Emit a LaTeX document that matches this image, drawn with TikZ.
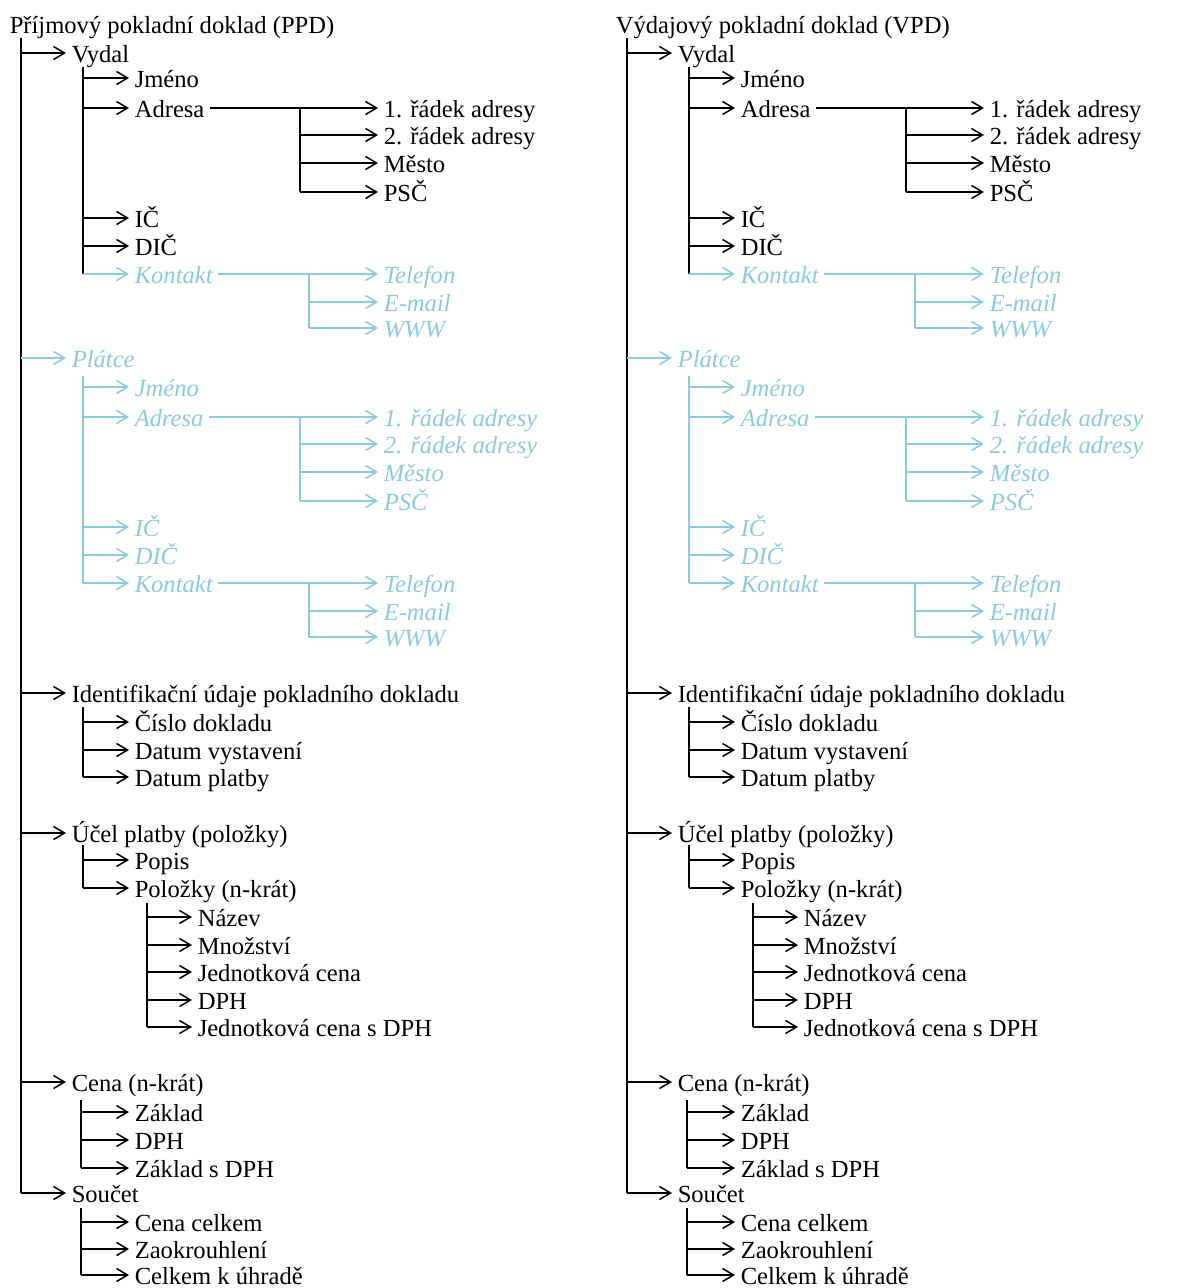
\documentclass[tikz,border=0pt]{standalone}
\usepackage{fontspec}
\setmainfont{Liberation Serif}
\usetikzlibrary{arrows.meta}
\definecolor{optblue}{RGB}{140,202,222}

\begin{document}
\begin{tikzpicture}[x=1pt, y=-1pt, line width=1.5pt]
\tikzset{ >={Straight Barb[length=11pt, width=13pt]},
  item/.style={anchor=west, inner xsep=5pt, inner ysep=0pt, text height=18pt, text depth=0pt,
    font=\fontsize{24.6}{28}\selectfont},
  req/.style={},
  opt/.style={optblue, font=\fontsize{24.6}{28}\selectfont\itshape},
}

\useasboundingbox (0,0) rectangle (1197,1288);

\foreach \dx/\pre/\doc in {0/ppd/{Příjmový pokladní doklad (PPD)}, 606/vpd/{Výdajový pokladní doklad (VPD)}} {
\begin{scope}[xshift=\dx pt, name prefix=\pre-]

% document and its first level
\node [item] (doc) at (4,24) {\doc};
\coordinate (top) at (21,38);

\node [item] (vydal)  at (66,53)   {Vydal};
\node [item, opt] (platce) at (66,358) {Plátce};
\node [item] (ident)  at (66,693)  {Identifikační údaje pokladního dokladu};
\node [item] (ucel)   at (66,833)  {Účel platby (položky)};
\node [item] (cena)   at (66,1082) {Cena (n-krát)};
\node [item] (soucet) at (66,1193) {Součet};

\draw (top) -- (top |- soucet.west);
\foreach \n in {vydal, ident, ucel, cena, soucet}
  \draw [->] (top |- \n.west) -- (\n.west);
\draw [->, opt] (top |- platce.west) -- (platce.west);

% Vydal (v) and Platce (p): same fields, Platce shifted down
\foreach \sub/\dy/\kind in {v/0/req, p/309/opt} {
\begin{scope}[yshift=-\dy pt]
\coordinate (\sub t) at (83,67);
\node [item, \kind] (\sub jmeno)   at (129,78)  {Jméno};
\node [item, \kind] (\sub adresa)  at (129,108) {Adresa};
\node [item, \kind] (\sub ic)      at (129,218) {IČ};
\node [item, \kind] (\sub dic)     at (129,246) {DIČ};
\node [item, opt]   (\sub kontakt) at (129,274) {Kontakt};

\draw [\kind] (\sub t) -- (\sub t |- \sub kontakt.west);
\foreach \n in {jmeno, adresa, ic, dic}
  \draw [->, \kind] (\sub t |- \sub\n.west) -- (\sub\n.west);
\draw [->, opt] (\sub t |- \sub kontakt.west) -- (\sub kontakt.west);

% address lines
\coordinate (\sub at) at (300,108);
\node [item, \kind] (\sub a1)    at (378,108) {1. řádek adresy};
\node [item, \kind] (\sub a2)    at (378,135) {2. řádek adresy};
\node [item, \kind] (\sub mesto) at (378,163) {Město};
\node [item, \kind] (\sub psc)   at (378,192) {PSČ};
\draw [->, \kind] (\sub adresa.east) -- (\sub a1.west);
\draw [\kind] (\sub at) -- (\sub at |- \sub psc.west);
\foreach \n in {a2, mesto, psc}
  \draw [->, \kind] (\sub at |- \sub\n.west) -- (\sub\n.west);

% contact
\coordinate (\sub kt) at (309,274);
\node [item, opt] (\sub tel)   at (378,274) {Telefon};
\node [item, opt] (\sub email) at (378,302) {E-mail};
\node [item, opt] (\sub www)   at (378,328) {WWW};
\draw [->, opt] (\sub kontakt.east) -- (\sub tel.west);
\draw [opt] (\sub kt) -- (\sub kt |- \sub www.west);
\foreach \n in {email, www}
  \draw [->, opt] (\sub kt |- \sub\n.west) -- (\sub\n.west);
\end{scope}
}

% identification
\coordinate (it) at (83,707);
\node [item] (cislo)     at (129,722) {Číslo dokladu};
\node [item] (vystaveni) at (129,750) {Datum vystavení};
\node [item] (platby)    at (129,777) {Datum platby};
\draw (it) -- (it |- platby.west);
\foreach \n in {cislo, vystaveni, platby}
  \draw [->] (it |- \n.west) -- (\n.west);

% purpose of payment
\coordinate (ut) at (83,845);
\node [item] (popis)   at (129,860) {Popis};
\node [item] (polozky) at (129,888) {Položky (n-krát)};
\draw (ut) -- (ut |- polozky.west);
\foreach \n in {popis, polozky}
  \draw [->] (ut |- \n.west) -- (\n.west);

\coordinate (pt) at (147,903);
\node [item] (nazev)    at (192,917)  {Název};
\node [item] (mnozstvi) at (192,945)  {Množství};
\node [item] (jcena)    at (192,972)  {Jednotková cena};
\node [item] (dph)      at (192,1000) {DPH};
\node [item] (jcenadph) at (192,1027) {Jednotková cena s DPH};
\draw (pt) -- (pt |- jcenadph.west);
\foreach \n in {nazev, mnozstvi, jcena, dph, jcenadph}
  \draw [->] (pt |- \n.west) -- (\n.west);

% price
\coordinate (ct) at (81,1100);
\node [item] (zaklad)    at (129,1112) {Základ};
\node [item] (cdph)      at (129,1140) {DPH};
\node [item] (zakladdph) at (129,1168) {Základ s DPH};
\draw (ct) -- (ct |- zakladdph.west);
\foreach \n in {zaklad, cdph, zakladdph}
  \draw [->] (ct |- \n.west) -- (\n.west);

% sum
\coordinate (st) at (81,1208);
\node [item] (celkem) at (129,1222) {Cena celkem};
\node [item] (zaokr)  at (129,1249) {Zaokrouhlení};
\node [item] (uhrada) at (129,1275) {Celkem k úhradě};
\draw (st) -- (st |- uhrada.west);
\foreach \n in {celkem, zaokr, uhrada}
  \draw [->] (st |- \n.west) -- (\n.west);

\end{scope}
}

\end{tikzpicture}
\end{document}
